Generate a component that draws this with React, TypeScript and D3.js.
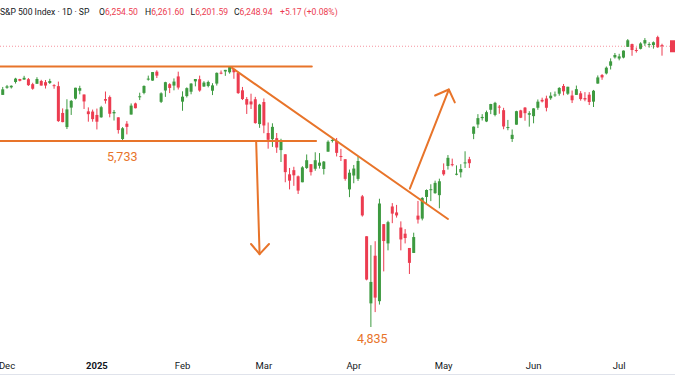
import React from "react";
import * as d3 from "d3";

// ---- Data (S&P 500 daily candles) ----
const dates = [
  "2024-11-29",
  "2024-12-02","2024-12-03","2024-12-04","2024-12-05","2024-12-06","2024-12-09","2024-12-10","2024-12-11","2024-12-12","2024-12-13",
  "2024-12-16","2024-12-17","2024-12-18","2024-12-19","2024-12-20","2024-12-23","2024-12-24","2024-12-26","2024-12-27","2024-12-30","2024-12-31",
  "2025-01-02","2025-01-03","2025-01-06","2025-01-07","2025-01-08","2025-01-10","2025-01-13","2025-01-14","2025-01-15","2025-01-16","2025-01-17",
  "2025-01-21","2025-01-22","2025-01-23","2025-01-24","2025-01-27","2025-01-28","2025-01-29","2025-01-30","2025-01-31",
  "2025-02-03","2025-02-04","2025-02-05","2025-02-06","2025-02-07","2025-02-10","2025-02-11","2025-02-12","2025-02-13","2025-02-14",
  "2025-02-18","2025-02-19","2025-02-20","2025-02-21","2025-02-24","2025-02-25","2025-02-26","2025-02-27","2025-02-28",
  "2025-03-03","2025-03-04","2025-03-05","2025-03-06","2025-03-07","2025-03-10","2025-03-11","2025-03-12","2025-03-13","2025-03-14",
  "2025-03-17","2025-03-18","2025-03-19","2025-03-20","2025-03-21","2025-03-24","2025-03-25","2025-03-26","2025-03-27","2025-03-28","2025-03-31",
  "2025-04-01","2025-04-02","2025-04-03","2025-04-04","2025-04-07","2025-04-08","2025-04-09","2025-04-10","2025-04-11",
  "2025-04-14","2025-04-15","2025-04-16","2025-04-17","2025-04-21","2025-04-22","2025-04-23","2025-04-24","2025-04-25","2025-04-28","2025-04-29","2025-04-30",
  "2025-05-01","2025-05-02","2025-05-05","2025-05-06","2025-05-07","2025-05-08","2025-05-09","2025-05-12","2025-05-13","2025-05-14","2025-05-15","2025-05-16",
  "2025-05-19","2025-05-20","2025-05-21","2025-05-22","2025-05-23","2025-05-27","2025-05-28","2025-05-29","2025-05-30",
  "2025-06-02","2025-06-03","2025-06-04","2025-06-05","2025-06-06","2025-06-09","2025-06-10","2025-06-11","2025-06-12","2025-06-13",
  "2025-06-16","2025-06-17","2025-06-18","2025-06-20","2025-06-23","2025-06-24","2025-06-25","2025-06-26","2025-06-27","2025-06-30",
  "2025-07-01","2025-07-02","2025-07-03","2025-07-07","2025-07-08","2025-07-09","2025-07-10","2025-07-11","2025-07-14","2025-07-15","2025-07-16",
];

const opens = [
  6004,
  6040,6042,6069,6084,6081,6083,6058,6060,6074,6068,
  6064,6053,6048,5913,5842,5940,5985,6025,6006,5921,5920,
  5903,5891,5983,5993,5911,5891,5782,5859,5905,5961,5996,
  6014,6081,6076,6121,5969,6026,6058,6051,6097,
  5970,5998,6020,6072,6083,6046,6049,6025,6061,6116,
  6122,6118,6135,6114,6027,5983,5971,5982,5857,
  5968,5812,5781,5786,5726,5705,5604,5625,5594,5564,
  5636,5655,5632,5647,5631,5718,5776,5772,5696,5680,5528,
  5598,5581,5493,5292,4954,5194,4965,5353,5256,
  5442,5412,5336,5305,5233,5208,5396,5381,5490,5529,5509,5499,
  5625,5646,5655,5606,5614,5664,5680,5808,5855,5887,5870,5929,
  5903,5945,5927,5841,5782,5854,5926,5940,5904,
  5897,5939,5979,5986,5987,6005,6010,6049,6010,6001,
  6004,6012,5988,6005,5970,6061,6104,6112,6151,6193,
  6187,6192,6246,6260,6230,6236,6263,6255,6255,6295,6254.5,
];

const highs = [
  6044,
  6054,6052,6090,6085,6100,6089,6065,6093,6080,6079,
  6085,6058,6071,5936,5982,5978,6040,6050,6006,5941,5930,
  5935,5949,6021,6001,5928,5891,5842,5872,5961,5965,6015,
  6052,6101,6119,6128,6017,6070,6063,6087,6121,
  6022,6042,6063,6084,6101,6073,6076,6063,6117,6127,
  6130,6147,6135,6115,6044,5993,6010,5994,5959,
  5986,5865,5861,5812,5783,5705,5636,5642,5598,5645,
  5704,5655,5715,5711,5671,5775,5783,5787,5732,5680,5628,
  5651,5695,5500,5292,5247,5267,5481,5353,5370,
  5459,5450,5367,5328,5233,5310,5470,5489,5528,5554,5572,5582,
  5659,5701,5683,5649,5655,5720,5692,5845,5907,5907,5925,5959,
  5969,5953,5939,5878,5830,5924,5929,5943,5922,
  5937,5981,5990,6000,6017,6021,6043,6059,6045,6026,
  6051,6023,6018,6018,6029,6102,6109,6147,6188,6215,
  6211,6228,6285,6262,6243,6269,6290,6269,6273,6302,6261.6,
];

const lows = [
  6004,
  6035,6036,6061,6072,6080,6049,6030,6060,6051,6036,
  6059,6035,5868,5866,5832,5903,5981,6007,5933,5869,5869,
  5830,5889,5960,5891,5875,5809,5773,5805,5905,5936,5978,
  6007,6076,6075,6089,5963,5994,6013,6027,6031,
  5924,5991,6007,6047,6020,6045,6042,6003,6051,6108,
  6100,6111,6085,6009,5978,5908,5933,5859,5838,
  5811,5733,5742,5712,5666,5564,5528,5546,5505,5564,
  5631,5598,5622,5633,5603,5718,5764,5694,5671,5572,5489,
  5559,5571,5391,5070,4835,4910,4948,5115,5221,
  5358,5386,5221,5256,5102,5208,5356,5372,5456,5469,5506,5433,
  5597,5628,5644,5599,5588,5636,5636,5781,5837,5875,5867,5907,
  5896,5909,5831,5826,5767,5854,5887,5874,5844,
  5861,5929,5966,5921,5979,5994,6000,6002,6004,5963,
  6004,5975,5972,5953,5943,6060,6080,6107,6132,6187,
  6178,6188,6246,6201,6217,6233,6251,6242,6237,6241,6201.59,
];

const closes = [
  6032,
  6047,6050,6086,6075,6090,6053,6035,6084,6051,6051,
  6074,6051,5872,5867,5931,5974,6040,6038,5971,5907,5882,
  5869,5942,5975,5909,5918,5827,5836,5843,5950,5937,5997,
  6049,6086,6119,6101,6012,6068,6039,6071,6041,
  5995,6038,6061,6084,6026,6066,6069,6052,6115,6115,
  6130,6144,6118,6013,5983,5955,5956,5862,5955,
  5850,5778,5843,5739,5770,5615,5572,5599,5522,5639,
  5675,5615,5675,5663,5668,5768,5777,5712,5693,5581,5612,
  5633,5671,5397,5074,5062,4983,5457,5268,5363,
  5406,5397,5276,5283,5158,5288,5376,5485,5525,5529,5561,5569,
  5604,5687,5650,5607,5631,5664,5660,5844,5887,5893,5917,5958,
  5964,5940,5845,5842,5803,5922,5889,5912,5912,
  5936,5970,5971,5939,6000,6006,6039,6022,6045,5977,
  6033,5983,5981,5968,6025,6092,6092,6141,6173,6205,
  6198,6227,6279,6230,6226,6263,6280,6260,6269,6244,6248.94,
];

const monthTickDates = ["2024-12-02", "2025-01-02", "2025-02-03", "2025-03-03", "2025-04-01", "2025-05-01", "2025-06-02", "2025-07-01"];
const monthTickLabels = ["Dec", "2025", "Feb", "Mar", "Apr", "May", "Jun", "Jul"];

const headerTitle = "S&P 500 Index · 1D · SP";
const headerKeys = ["O", "H", "L", "C"];
const headerValues = ["6,254.50", "6,261.60", "6,201.59", "6,248.94"];
const headerChange = "+5.17 (+0.08%)";

// annotation levels (data space: [candle index, price])
const resistanceLevel = 6147;
const supportLevel = 5772;
const supportLabel = "5,733";
const lowLevel = 4835;
const lowLabel = "4,835";
const lastPrice = 6248.94;
const trendLine = [[53.56, 6140], [104.0, 5379]];
const downArrow = [[59.2, 5769], [60.0, 5202]];
const downArrowHead = [[58.0, 5253], [60.0, 5202], [62.2, 5253]];
const upArrow = [[95.1, 5532], [104.2, 6031]];
const upArrowHead = [[101.0, 6001], [104.2, 6031], [105.6, 5966]];

const W = 675;
const H = 379;
const GREEN = "#3d9a40";
const RED = "#ec3c50";
const ORANGE = "#e8742a";
const FONT = "Roboto, 'Liberation Sans', sans-serif";

export default function App() {
  const xScale = d3
    .scaleLinear()
    .domain([dates.indexOf("2024-12-02"), dates.indexOf("2025-07-16")])
    .range([7, 662]);
  const yScale = d3.scaleLinear().domain([lowLevel, resistanceLevel]).range([327, 66.5]);
  const line = d3
    .line<number[]>()
    .x((d) => xScale(d[0]))
    .y((d) => yScale(d[1]));

  const bodyW = 3;
  const candles = dates.map((d, i) => {
    const o = opens[i], c = closes[i], h = highs[i], l = lows[i];
    const up = c >= o;
    const col = up ? GREEN : RED;
    const x = xScale(i);
    const yTop = yScale(Math.max(o, c));
    const yBot = yScale(Math.min(o, c));
    return (
      <g key={d}>
        <line x1={x} x2={x} y1={yScale(h)} y2={yScale(l)} stroke={col} strokeWidth={1} />
        <rect x={x - bodyW / 2} y={yTop} width={bodyW} height={Math.max(1, yBot - yTop)} fill={col} />
      </g>
    );
  });

  const lineStartX = xScale(-1);
  const resistanceEnd = xScale(72.2);
  const supportEnd = xScale(73.2);
  const yLast = yScale(lastPrice);
  const headerX = [99, 145, 190.5, 234];

  return (
    <svg
      width={W}
      height={H}
      style={{ position: "absolute", left: 0, top: 0, background: "#fff" }}
      fontFamily={FONT}
    >
      <rect x={0} y={0} width={W} height={H} fill="#ffffff" />
      {/* last price dotted line */}
      <line x1={0} x2={W} y1={yLast} y2={yLast} stroke={RED} strokeOpacity={0.55} strokeWidth={1} strokeDasharray="1 2" />
      {candles}
      {/* annotations */}
      <g stroke={ORANGE} strokeWidth={2} fill="none" strokeLinecap="round" strokeLinejoin="round">
        <line x1={lineStartX} x2={resistanceEnd} y1={yScale(resistanceLevel)} y2={yScale(resistanceLevel)} />
        <line x1={lineStartX} x2={supportEnd} y1={yScale(supportLevel)} y2={yScale(supportLevel)} />
        <path d={line(trendLine) || ""} />
        <path d={line(downArrow) || ""} />
        <path d={line(downArrowHead) || ""} />
        <path d={line(upArrow) || ""} />
        <path d={line(upArrowHead) || ""} />
      </g>
      <text x={xScale(27.9)} y={yScale(supportLevel) + 20} textAnchor="middle" fill={ORANGE} fontSize={12.5}>
        {supportLabel}
      </text>
      <text x={xScale(86.3)} y={yScale(lowLevel) + 16} textAnchor="middle" fill={ORANGE} fontSize={12.5}>
        {lowLabel}
      </text>
      {/* price scale label (cropped) */}
      <rect x={670} y={yLast - 6} width={10} height={12} fill={RED} />
      {/* header */}
      <g fontSize={8.6}>
        <text x={0} y={14.5} fill="#131722">{headerTitle}</text>
        {headerKeys.map((k, i) => (
          <text key={k} x={headerX[i]} y={14.5} fill="#131722">
            {k}
            <tspan fill={RED}>{headerValues[i]}</tspan>
          </text>
        ))}
        <text x={280} y={14.5} fill={RED}>{headerChange}</text>
      </g>
      {/* time axis */}
      <line x1={0} x2={W} y1={374.5} y2={374.5} stroke="#e0e3eb" strokeWidth={1} />
      {monthTickDates.map((d, i) => (
        <text
          key={d}
          x={xScale(dates.indexOf(d))}
          y={369}
          textAnchor="middle"
          fontSize={9.5}
          fontWeight={monthTickLabels[i] === "2025" ? 700 : 400}
          fill="#131722"
        >
          {monthTickLabels[i]}
        </text>
      ))}
    </svg>
  );
}
